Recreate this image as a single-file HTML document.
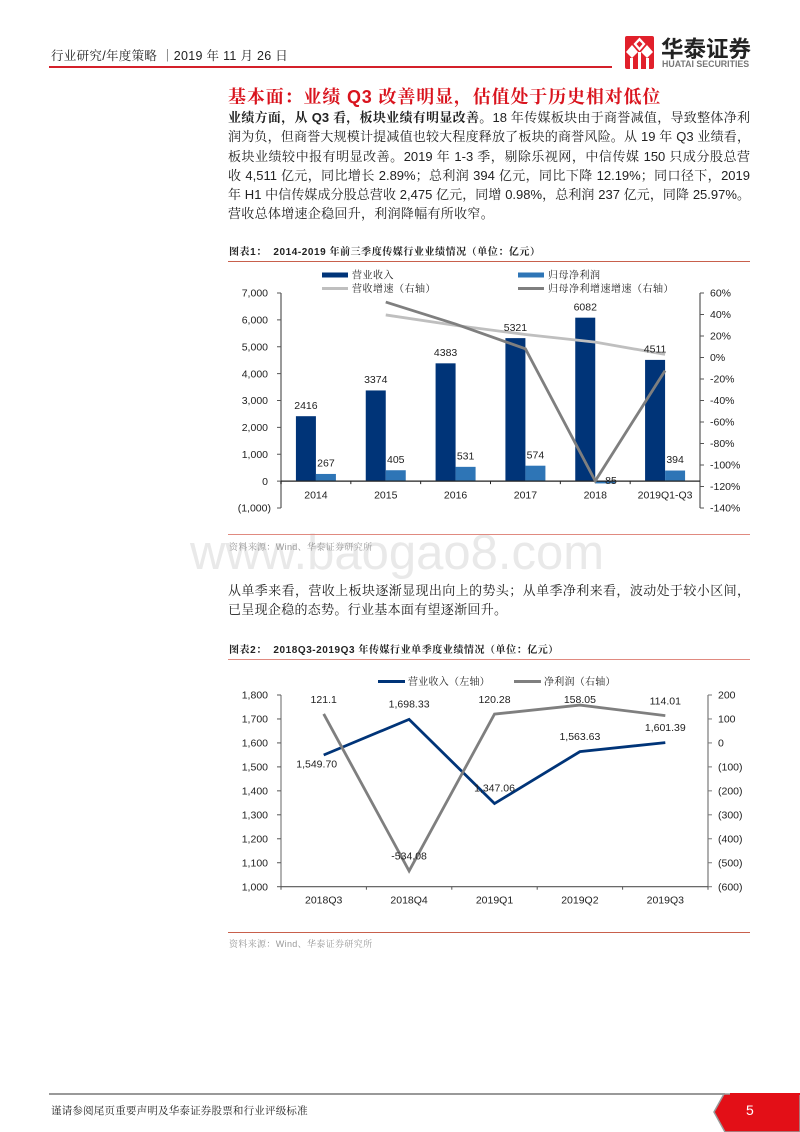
<!DOCTYPE html>
<html lang="zh">
<head>
<meta charset="utf-8">
<title>传媒行业年度策略</title>
<style>
html,body{margin:0;padding:0;background:#fff;}
#page{position:relative;width:800px;height:1132px;overflow:hidden;background:#fff;font-family:"Liberation Sans","Noto Serif CJK SC",serif;color:#222;}
.abs{position:absolute;}
.line{position:absolute;left:228px;width:522px;height:20px;line-height:20px;font-size:13px;text-align:justify;text-align-last:justify;}
.last{text-align-last:left;letter-spacing:.3px;}
.cap{position:absolute;left:229px;font-size:10px;font-weight:bold;line-height:14px;height:14px;white-space:nowrap;letter-spacing:.55px;color:#222;}
.src{position:absolute;left:229px;font-size:9px;line-height:12px;color:#999;white-space:nowrap;letter-spacing:.35px;}
.rule{position:absolute;left:228px;width:522px;height:1px;background:#c8604c;}
svg{position:absolute;overflow:visible;}
svg text{font-family:"Liberation Sans","Noto Serif CJK SC",serif;fill:#222;font-size:10.5px;}
</style>
</head>
<body>
<div id="page">
  <div class="abs" style="left:190px;top:524px;font-size:49px;line-height:58px;color:#e9e9e9;font-family:'Liberation Sans',sans-serif;white-space:nowrap;">www.baogao8.com</div>

  <div class="abs" style="left:51px;top:47px;font-size:12.5px;line-height:18px;white-space:nowrap;letter-spacing:.3px;">行业研究/年度策略 ｜2019 年 11 月 26 日</div>
  <div class="abs" style="left:49px;top:66px;width:563px;height:2px;background:#d4202a;"></div>

  <svg style="left:625px;top:36px" width="29" height="33" viewBox="0 0 29 33">
    <rect width="29" height="33" rx="2" fill="#e1202b"/>
    <polygon points="14.5,1.5 20.5,8 14.5,15 8.500,8" fill="#fff"/>
    <polygon points="14.5,5 17.500,8 14.500,11.500 11.500,8" fill="#e1202b"/>
    <polygon points="7,9 13,16 7,22 1,16" fill="#fff"/>
    <polygon points="22,9 28,16 22,22 16,16" fill="#fff"/>
    <rect x="5" y="22" width="3" height="11" fill="#fff"/>
    <rect x="13" y="16" width="3" height="17" fill="#fff"/>
    <rect x="21" y="22" width="3" height="11" fill="#fff"/>
  </svg>
  <div class="abs" style="left:661px;top:35px;font-size:22.500px;line-height:26px;font-weight:bold;font-family:'Noto Sans CJK SC',sans-serif;color:#222;white-space:nowrap;">华泰证券</div>
  <div class="abs" style="left:662px;top:59px;font-size:8.800px;line-height:11px;font-weight:bold;color:#777;white-space:nowrap;font-family:'Liberation Sans',sans-serif;">HUATAI SECURITIES</div>

  <div class="abs" style="left:228px;top:85px;font-size:18px;line-height:24px;font-weight:bold;color:#d9141e;white-space:nowrap;letter-spacing:.85px;">基本面：业绩 Q3 改善明显，估值处于历史相对低位</div>

  <div class="line" style="top:108px"><b>业绩方面，从 Q3 看，板块业绩有明显改善。</b>18 年传媒板块由于商誉减值，导致整体净利</div>
  <div class="line" style="top:127px">润为负，但商誉大规模计提减值也较大程度释放了板块的商誉风险。从 19 年 Q3 业绩看，</div>
  <div class="line" style="top:147px">板块业绩较中报有明显改善。2019 年 1-3 季，剔除乐视网，中信传媒 150 只成分股总营</div>
  <div class="line" style="top:166px">收 4,511 亿元，同比增长 2.89%；总利润 394 亿元，同比下降 12.19%；同口径下，2019</div>
  <div class="line" style="top:185px">年 H1 中信传媒成分股总营收 2,475 亿元，同增 0.98%，总利润 237 亿元，同降 25.97%。</div>
  <div class="line last" style="top:204px">营收总体增速企稳回升，利润降幅有所收窄。</div>

  <div class="cap" style="top:246px">图表1：&nbsp;&nbsp;2014-2019 年前三季度传媒行业业绩情况（单位：亿元）</div>
  <div class="rule" style="top:261px"></div>

  <svg id="chart1" style="left:228px;top:264px" width="522" height="268" viewBox="228 264 522 268"></svg>

  <div class="rule" style="top:534px;background:#e08a80"></div>
  <div class="src" style="top:541px">资料来源：Wind、华泰证券研究所</div>

  <div class="line" style="top:581px">从单季来看，营收上板块逐渐显现出向上的势头；从单季净利来看，波动处于较小区间，</div>
  <div class="line last" style="top:600px">已呈现企稳的态势。行业基本面有望逐渐回升。</div>

  <div class="cap" style="top:644px">图表2：&nbsp;&nbsp;2018Q3-2019Q3 年传媒行业单季度业绩情况（单位：亿元）</div>
  <div class="rule" style="top:659px;background:#e08a80"></div>

  <svg id="chart2" style="left:228px;top:664px" width="522" height="262" viewBox="228 664 522 262"></svg>

  <div class="rule" style="top:932px"></div>
  <div class="src" style="top:938px">资料来源：Wind、华泰证券研究所</div>

  <div class="abs" style="left:49px;top:1093px;width:676px;height:2px;background:#999;"></div>
  <div class="abs" style="left:51px;top:1103px;font-size:10.500px;line-height:16px;white-space:nowrap;letter-spacing:.2px;">谨请参阅尾页重要声明及华泰证券股票和行业评级标准</div>
  <svg style="left:710px;top:1092px" width="90" height="40" viewBox="0 0 90 40">
    <polygon points="14,2 90,2 90,40 15,40 4,20" fill="#e30f17" stroke="#999" stroke-width="1.500"/>
    <rect x="20" y="1" width="70" height="2" fill="#e30f17"/>
  </svg>
  <div class="abs" style="left:746px;top:1101px;font-size:14px;line-height:18px;color:#fff;font-family:'Liberation Sans',sans-serif;">5</div>
</div>

<script>
// ---- Chart 1 data ----
const c1Categories = ['2014', '2015', '2016', '2017', '2018', '2019Q1-Q3'];
const c1Revenue = [2416, 3374, 4383, 5321, 6082, 4511];
const c1Profit = [267, 405, 531, 574, -85, 394];
const c1RevenueGrowth = [null, 39.6, 29.9, 21.4, 14.3, 2.89];
const c1ProfitGrowth = [null, 51.6, 31.1, 8.1, -114.8, -12.19];
const c1LeftTicks = [7000, 6000, 5000, 4000, 3000, 2000, 1000, 0, -1000];
const c1LeftTickLabels = ['7,000', '6,000', '5,000', '4,000', '3,000', '2,000', '1,000', '0', '(1,000)'];
const c1RightTicks = [60, 40, 20, 0, -20, -40, -60, -80, -100, -120, -140];
const c1RightTickLabels = ['60%', '40%', '20%', '0%', '-20%', '-40%', '-60%', '-80%', '-100%', '-120%', '-140%'];

// ---- Chart 2 data ----
const c2Categories = ['2018Q3', '2018Q4', '2019Q1', '2019Q2', '2019Q3'];
const c2Revenue = [1549.70, 1698.33, 1347.06, 1563.63, 1601.39];
const c2Profit = [121.1, -534.08, 120.28, 158.05, 114.01];
const c2LeftTicks = [1800, 1700, 1600, 1500, 1400, 1300, 1200, 1100, 1000];
const c2LeftTickLabels = ['1,800', '1,700', '1,600', '1,500', '1,400', '1,300', '1,200', '1,100', '1,000'];
const c2RightTicks = [200, 100, 0, -100, -200, -300, -400, -500, -600];
const c2RightTickLabels = ['200', '100', '0', '(100)', '(200)', '(300)', '(400)', '(500)', '(600)'];

const NS = 'http://www.w3.org/2000/svg';
function shape(svg, tag, props) {
  const el = document.createElementNS(NS, tag);
  for (const k in props) el.setAttribute(k, props[k]);
  svg.appendChild(el);
  return el;
}
function label(svg, str, x, y, anchor, size, spacing) {
  const el = shape(svg, 'text', { x: x, y: y + 3.7, 'text-anchor': anchor || 'middle' });
  if (size) el.style.fontSize = size + 'px';
  if (spacing) el.style.letterSpacing = spacing + 'px';
  el.textContent = str;
  return el;
}
function rule(svg, x1, y1, x2, y2, color, width) {
  return shape(svg, 'line', { x1: x1, y1: y1, x2: x2, y2: y2, stroke: color, 'stroke-width': width });
}
function linear(d0, d1, r0, r1) {
  return function (v) { return r0 + (v - d0) * (r1 - r0) / (d1 - d0); };
}
function pathFor(values, xf, yf) {
  let d = '';
  values.forEach(function (v, i) {
    if (v === null) return;
    d += (d ? 'L' : 'M') + xf(i).toFixed(2) + ' ' + yf(v).toFixed(2);
  });
  return d;
}

// ---- Chart 1 render ----
(function () {
  const svg = document.getElementById('chart1');
  const left = 281, right = 700;
  const yL = linear(7000, -1000, 293, 508);
  const yR = linear(60, -140, 293, 508);
  const band = (right - left) / c1Categories.length;
  const xc = function (i) { return left + band * (i + 0.5); };
  const barW = 20;

  // Legend
  const s1 = shape(svg, 'rect', { x: 322, y: 272.500, width: 26, height: 5, fill: '#003478' });
  
  
  const t1 = label(svg, '营业收入', 352, 275, 'start', 10, 0.5);
  
  
  const s2 = shape(svg, 'rect', { x: 518, y: 272.500, width: 26, height: 5, fill: '#2e75b6' });
  
  
  const t2 = label(svg, '归母净利润', 548, 275, 'start', 10, 0.5);
  
  
  const s3 = rule(svg, 322, 288.500, 348, 288.500, '#bfbfbf', 3);
  
  
  const t3 = label(svg, '营收增速（右轴）', 352, 288.500, 'start', 10, 0.5);
  
  
  const s4 = rule(svg, 518, 288.500, 544, 288.500, '#7f7f7f', 3);
  
  
  const t4 = label(svg, '归母净利增速增速（右轴）', 548, 288.500, 'start', 10, 0.5);
  
  

  // Bars
  c1Revenue.forEach(function (v, i) {
    const b = shape(svg, 'rect', { x: xc(i) - barW, y: yL(Math.max(v, 0)), width: barW, height: Math.abs(yL(v) - yL(0)), fill: '#003478' });
    
    
  });
  c1Profit.forEach(function (v, i) {
    const b = shape(svg, 'rect', { x: xc(i), y: yL(Math.max(v, 0)), width: barW, height: Math.abs(yL(v) - yL(0)), fill: '#2e75b6' });
    
    
  });

  // Axes
  const al = rule(svg, left, yL(7000), left, yL(-1000), '#808080', 1.600);
  
  
  const ar = rule(svg, right, yR(60), right, yR(-140), '#808080', 1.600);
  
  
  const ax = rule(svg, left, yL(0), right, yL(0), '#222', 1.200);
  
  

  c1LeftTicks.forEach(function (v, i) {
    const m = rule(svg, left - 4, yL(v), left, yL(v), '#555', 1);
    
    
    const t = label(svg, c1LeftTickLabels[i], v < 0 ? 271 : 268, yL(v), 'end');
    
    
  });
  c1RightTicks.forEach(function (v, i) {
    const m = rule(svg, right, yR(v), right + 4, yR(v), '#555', 1);
    
    
    const t = label(svg, c1RightTickLabels[i], 710, yR(v), 'start');
    
    
  });
  c1Categories.forEach(function (c, i) {
    const m = rule(svg, left + band * i, yL(0), left + band * i, yL(0) + 3, '#222', 1);
    
    
    const t = label(svg, c, xc(i), yL(0) + 13.500);
    
    
  });

  // Lines
  const l1 = shape(svg, 'path', { d: pathFor(c1RevenueGrowth, xc, yR), fill: 'none', stroke: '#bfbfbf', 'stroke-width': 2.800 });
  
  
  const l2 = shape(svg, 'path', { d: pathFor(c1ProfitGrowth, xc, yR), fill: 'none', stroke: '#7f7f7f', 'stroke-width': 2.800 });
  
  

  // Value labels
  c1Revenue.forEach(function (v, i) {
    const t = label(svg, String(v), xc(i) - barW / 2, yL(v) - 11);
    
    
  });
  c1Profit.forEach(function (v, i) {
    const ly = v < 0 ? yL(v) - 3.300 : yL(v) - 11;
    const t = label(svg, String(v), xc(i) + barW / 2 + (v < 0 ? 4 : 0), ly);
    
    
  });
})();

// ---- Chart 2 render ----
(function () {
  const svg = document.getElementById('chart2');
  const left = 281, right = 708;
  const top = 695, bottom = 886.700;
  const yL = linear(1800, 1000, top, bottom);
  const yR = linear(200, -600, top, bottom);
  const band = (right - left) / c2Categories.length;
  const xc = function (i) { return left + band * (i + 0.5); };

  // Legend
  const s1 = rule(svg, 378, 681.500, 405, 681.500, '#003478', 3);
  
  
  const t1 = label(svg, '营业收入（左轴）', 408, 681.500, 'start', 10, 0.25);
  
  
  const s2 = rule(svg, 514, 681.500, 541, 681.500, '#7f7f7f', 3);
  
  
  const t2 = label(svg, '净利润（右轴）', 544, 681.500, 'start', 10, 0.25);
  
  

  // Axes
  const al = rule(svg, left, top, left, bottom, '#666', 1);
  
  
  const ar = rule(svg, right, top, right, bottom, '#a6a6a6', 1.800);
  
  
  const ax = rule(svg, left, bottom, right, bottom, '#555', 1.200);
  
  

  c2LeftTicks.forEach(function (v, i) {
    const m = rule(svg, left - 4, yL(v), left, yL(v), '#555', 1);
    
    
    const t = label(svg, c2LeftTickLabels[i], 268, yL(v), 'end');
    
    
  });
  c2RightTicks.forEach(function (v, i) {
    const m = rule(svg, right, yR(v), right + 4, yR(v), '#777', 1);
    
    
    const t = label(svg, c2RightTickLabels[i], 718, yR(v), 'start');
    
    
  });
  c2Categories.forEach(function (c, i) {
    const m = rule(svg, left + band * i, bottom, left + band * i, bottom + 3, '#555', 1);
    
    
    const t = label(svg, c, xc(i), bottom + 13);
    
    
  });
  const mEnd = rule(svg, right, bottom, right, bottom + 3, '#555', 1);
  
  

  // Lines
  const l1 = shape(svg, 'path', { d: pathFor(c2Revenue, xc, yL), fill: 'none', stroke: '#003478', 'stroke-width': 2.800 });
  
  
  const l2 = shape(svg, 'path', { d: pathFor(c2Profit, xc, yR), fill: 'none', stroke: '#7f7f7f', 'stroke-width': 2.800 });
  
  

  // Value labels
  c2Revenue.forEach(function (v, i) {
    const below = i === 0;
    const str = v.toLocaleString('en-US', { minimumFractionDigits: 2, maximumFractionDigits: 2 });
    const t = label(svg, str, xc(i) - (below ? 7 : 0), below ? yL(v) + 9 : yL(v) - 15.500);
    
    
  });
  c2Profit.forEach(function (v, i) {
    const t = label(svg, String(v), xc(i), Math.max(top + 4.500, yR(v) - 15));
    
    
  });
})();
</script>
</body>
</html>
